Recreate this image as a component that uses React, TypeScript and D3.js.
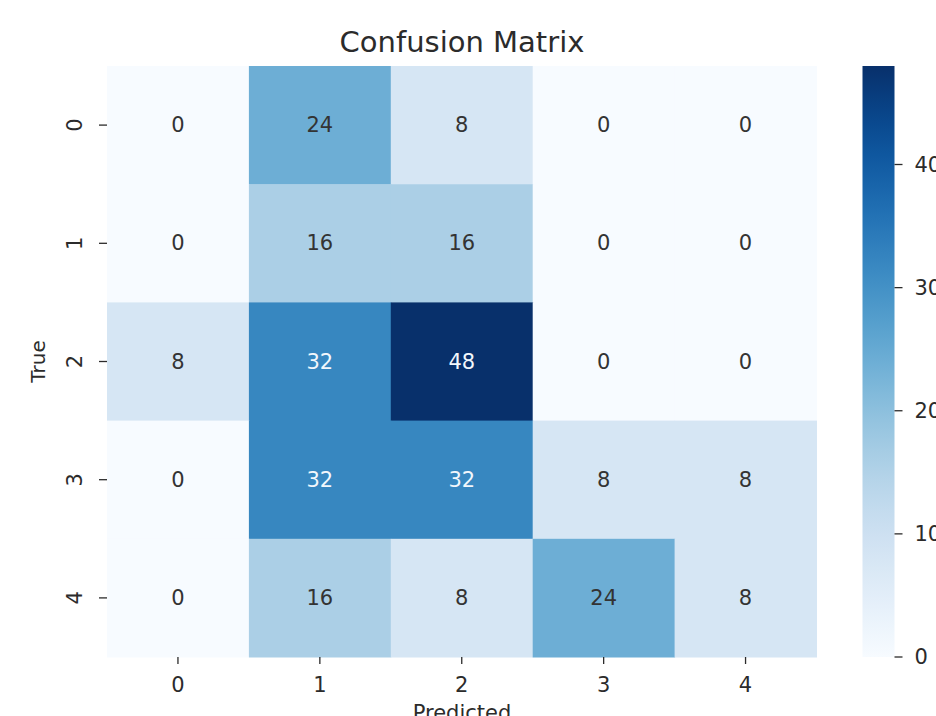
import React from "react";
import * as d3 from "d3";

const trueLabels = ["0", "1", "2", "3", "4"];
const predLabels = ["0", "1", "2", "3", "4"];
const row0 = [0, 24, 8, 0, 0];
const row1 = [0, 16, 16, 0, 0];
const row2 = [8, 32, 48, 0, 0];
const row3 = [0, 32, 32, 8, 8];
const row4 = [0, 16, 8, 24, 8];
const matrix = [row0, row1, row2, row3, row4];
const colorbarTicks = [0, 10, 20, 30, 40];
const title = "Confusion Matrix";
const xTitle = "Predicted";
const yTitle = "True";

const W = 936;
const H = 716;
const left = 107;
const right = 816.5;
const top = 66;
const bottom = 657;
const cbLeft = 862.5;
const cbRight = 894.5;
const font = "DejaVu Sans, sans-serif";
const ink = "#2b2b2b";

export default function App() {
  const vmax = d3.max(matrix.flat()) as number;
  const x = d3.scaleBand<string>().domain(predLabels).range([left, right]);
  const y = d3.scaleBand<string>().domain(trueLabels).range([top, bottom]);
  const color = d3.scaleSequential(d3.interpolateBlues).domain([0, vmax]);
  const cb = d3.scaleLinear().domain([0, vmax]).range([bottom, top]);
  const stops = d3.range(0, 1.0001, 0.05);
  const textColor = (v: number) => {
    const c = d3.rgb(color(v));
    const lum = (0.2126 * c.r + 0.7152 * c.g + 0.0722 * c.b) / 255;
    return lum > 0.5 ? "#333333" : "#f2f7fc";
  };
  return (
    <svg width={W} height={H} style={{ position: "absolute", left: 0, top: 0, background: "#fff" }}>
      <defs>
        <linearGradient id="cbg" x1="0" y1="1" x2="0" y2="0">
          {stops.map((t) => (
            <stop key={t} offset={t} stopColor={color(t * vmax)} />
          ))}
        </linearGradient>
      </defs>
      <text x={462} y={52} textAnchor="middle" fontFamily={font} fontSize={29} fill={ink}>
        {title}
      </text>
      {matrix.map((row, i) =>
        row.map((v, j) => (
          <g key={`${i}-${j}`}>
            <rect
              x={x(predLabels[j])}
              y={y(trueLabels[i])}
              width={x.bandwidth() + 0.5}
              height={y.bandwidth() + 0.5}
              fill={color(v)}
            />
            <text
              x={(x(predLabels[j]) as number) + x.bandwidth() / 2}
              y={(y(trueLabels[i]) as number) + y.bandwidth() / 2}
              textAnchor="middle"
              dominantBaseline="central"
              fontFamily={font}
              fontSize={21}
              fill={textColor(v)}
            >
              {v}
            </text>
          </g>
        ))
      )}
      {predLabels.map((l) => {
        const cx = (x(l) as number) + x.bandwidth() / 2;
        return (
          <g key={"x" + l}>
            <line x1={cx} x2={cx} y1={bottom} y2={bottom + 7} stroke={ink} strokeWidth={1.3} />
            <text x={cx} y={692} textAnchor="middle" fontFamily={font} fontSize={21} fill={ink}>
              {l}
            </text>
          </g>
        );
      })}
      {trueLabels.map((l) => {
        const cy = (y(l) as number) + y.bandwidth() / 2;
        return (
          <g key={"y" + l}>
            <line x1={left - 8} x2={left} y1={cy} y2={cy} stroke={ink} strokeWidth={1.3} />
            <text
              transform={`translate(82,${cy}) rotate(-90)`}
              textAnchor="middle"
              fontFamily={font}
              fontSize={21}
              fill={ink}
            >
              {l}
            </text>
          </g>
        );
      })}
      <text x={462} y={720} textAnchor="middle" fontFamily={font} fontSize={21} fill={ink}>
        {xTitle}
      </text>
      <text
        transform={`translate(45,${(top + bottom) / 2}) rotate(-90)`}
        textAnchor="middle"
        fontFamily={font}
        fontSize={20}
        fill={ink}
      >
        {yTitle}
      </text>
      <rect x={cbLeft} y={top} width={cbRight - cbLeft} height={bottom - top} fill="url(#cbg)" />
      {colorbarTicks.map((t) => (
        <g key={"cb" + t}>
          <line x1={cbRight} x2={cbRight + 8} y1={cb(t)} y2={cb(t)} stroke={ink} strokeWidth={1.3} />
          <text x={cbRight + 20} y={cb(t)} dominantBaseline="central" fontFamily={font} fontSize={21} fill={ink}>
            {t}
          </text>
        </g>
      ))}
    </svg>
  );
}
